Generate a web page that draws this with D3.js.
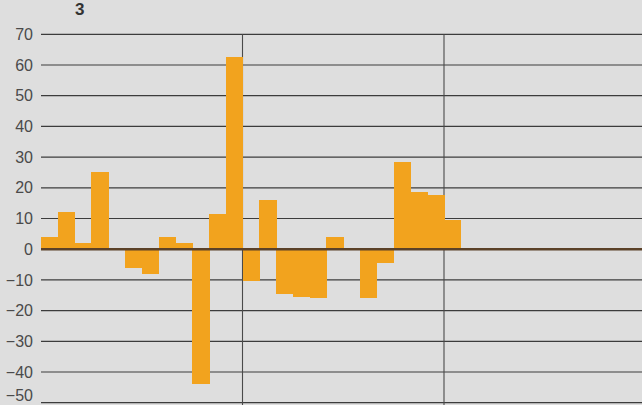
<!DOCTYPE html>
<html><head><meta charset="utf-8">
<script src="https://cdn.jsdelivr.net/npm/d3@7"></script>
<style>html,body{margin:0;padding:0;background:#dedede;}svg{display:block;}</style>
</head><body>
<svg id="c" width="642" height="405"></svg>
<script>
const title = "3";
const periods = ["P1", "P2", "P3"];
const months = ["1","2","3","4","5","6","7","8","9","10","11","12"];
const categories = periods.flatMap(p => months.map(m => p + "-" + m));
const values = [
  4, 12, 2, 25, 0, -6, -8, 4, 2, -44, 11.5, 62.5,
  -10.5, 16, -14.5, -15.5, -16, 4, 0, -16, -4.5, 28.5, 18.5, 17.5,
  9.5, 0.5, null, null, null, null, null, null, null, null, null, null
];
const yTicks = [70, 60, 50, 40, 30, 20, 10, 0, -10, -20, -30, -40, -50];

const svg = d3.select("#c");
const W = 642, H = 405;
svg.append("rect").attr("width", W).attr("height", H).attr("fill", "#dedede");

const x = d3.scaleBand().domain(categories).range([41, 645.5]).padding(0);
const y = d3.scaleLinear().domain([-50, 70]).range([402.7, 34.3]);

// horizontal grid
svg.append("g").selectAll("line").data(yTicks.filter(t => t !== 0)).join("line")
  .attr("x1", 41).attr("x2", W)
  .attr("y1", d => y(d)).attr("y2", d => y(d))
  .attr("stroke", "#3c3c3c").attr("stroke-width", 1.2);

// period separators
svg.append("g").selectAll("line").data([categories[12], categories[24]]).join("line")
  .attr("x1", d => x(d)).attr("x2", d => x(d))
  .attr("y1", y(70)).attr("y2", H)
  .attr("stroke", "#4a4a4a").attr("stroke-width", 1.1);

// bars
svg.append("g").attr("shape-rendering", "crispEdges")
  .selectAll("rect").data(categories.map((c, i) => ({c, v: values[i]})).filter(d => d.v !== null && d.v !== 0)).join("rect")
  .attr("x", d => x(d.c))
  .attr("width", x.bandwidth() + 0.6)
  .attr("y", d => y(Math.max(0, d.v)))
  .attr("height", d => Math.abs(y(d.v) - y(0)))
  .attr("fill", "#f2a31e");

// zero line
svg.append("line").attr("x1", 41).attr("x2", W)
  .attr("y1", y(0)).attr("y2", y(0))
  .attr("stroke", "#5b4128").attr("stroke-width", 2.4);

// y axis labels
const yAxis = d3.axisLeft(y).tickValues(yTicks).tickSize(0).tickPadding(0);
const ga = svg.append("g").attr("transform", "translate(33,0)").call(yAxis);
ga.select(".domain").remove();
ga.selectAll("text").attr("font-family", "Liberation Sans, Arial, sans-serif")
  .attr("font-size", 16).attr("fill", "#4a4a4a");
// keep the bottom label inside the picture
ga.selectAll(".tick").filter(d => d === -50).select("text").attr("dy", "-0.15em");

svg.append("text").attr("x", 75).attr("y", 15)
  .attr("font-family", "Liberation Sans, Arial, sans-serif")
  .attr("font-size", 17).attr("font-weight", "bold").attr("fill", "#333")
  .text(title);
</script>
</body></html>
